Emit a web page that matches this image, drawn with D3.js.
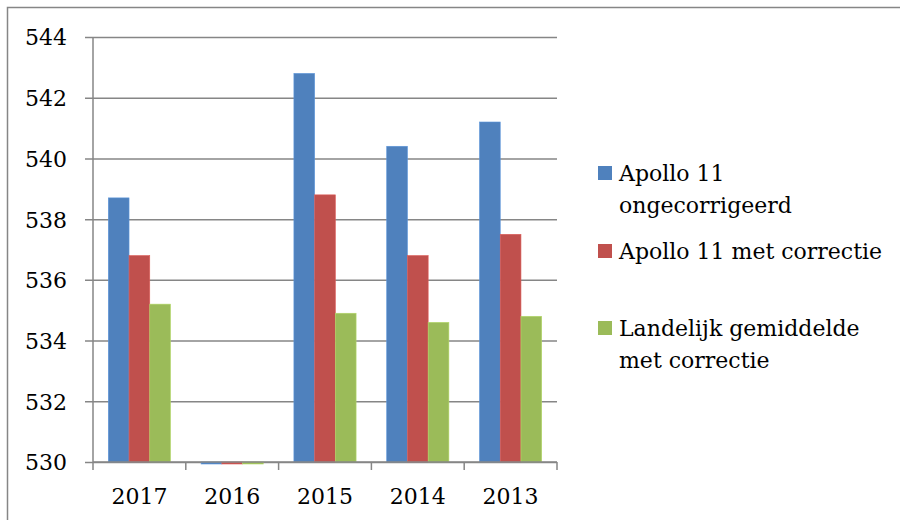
<!DOCTYPE html>
<html>
<head>
<meta charset="utf-8">
<script src="https://cdn.jsdelivr.net/npm/d3@7"></script>
<style>
  body { margin: 0; background: #fff; }
  svg { display: block; }
  text { font-family: "DejaVu Serif", serif; font-size: 22px; fill: #000; }
</style>
</head>
<body>
<div id="chart"></div>
<script>

//Data
var years = ["2017", "2016", "2015", "2014", "2013"];
var seriesNames = [
    ["Apollo 11", "ongecorrigeerd"],
    ["Apollo 11 met correctie"],
    ["Landelijk gemiddelde", "met correctie"]
];
var apolloRaw = [538.7, 530, 542.8, 540.4, 541.2];
var apolloCorr = [536.8, 530, 538.8, 536.8, 537.5];
var landelijk = [535.2, 530, 534.9, 534.6, 534.8];
var yTicks = [530, 532, 534, 536, 538, 540, 542, 544];
var colors = ["#4F81BD", "#C0504D", "#9BBB59"];


//**************************************************************************
//** initChart
//**************************************************************************
var width = 900, height = 520;
var svg = d3.select("#chart").append("svg")
    .attr("width", width)
    .attr("height", height);

//Outer frame
svg.append("rect")
    .attr("x", 7.5).attr("y", 7.5)
    .attr("width", width).attr("height", height)
    .attr("fill", "none")
    .attr("stroke", "#868686")
    .attr("stroke-width", 1.5);

var plot = { left: 93, right: 557, top: 37, bottom: 462 };

var x = d3.scaleBand()
    .domain(years)
    .range([plot.left, plot.right])
    .paddingInner(0)
    .paddingOuter(0);

var groupWidth = x.bandwidth() * 0.67;
var xSub = d3.scaleBand()
    .domain(d3.range(colors.length))
    .range([0, groupWidth]);

var y = d3.scaleLinear()
    .domain([530, 544])
    .range([plot.bottom, plot.top]);


//**************************************************************************
//** drawGridlines
//**************************************************************************
svg.append("g")
    .attr("transform", "translate(" + plot.left + ",0)")
    .call(d3.axisLeft(y)
        .tickValues(yTicks)
        .tickSize(8)
        .tickPadding(18)
        .tickFormat(d3.format("d"))
    )
    .call(function(g){
        g.select(".domain").remove();
        g.selectAll(".tick line")
            .attr("stroke", "#868686")
            .attr("stroke-width", 1.5)
            .attr("x2", plot.right - plot.left)
            .attr("x1", -8);
        g.selectAll(".tick text")
            .attr("x", -26)
            .attr("dy", "0.36em")
            .style("font-family", "'DejaVu Serif', serif")
            .style("font-size", "22px")
            .attr("fill", "#000");
    });


//**************************************************************************
//** drawBars
//**************************************************************************
var series = [apolloRaw, apolloCorr, landelijk];
series.forEach(function(values, s){
    svg.append("g")
        .selectAll("rect")
        .data(values)
        .enter()
        .append("rect")
        .attr("x", function(d, i){
            return x(years[i]) + (x.bandwidth() - groupWidth) / 2 + xSub(s);
        })
        .attr("width", xSub.bandwidth())
        .attr("y", function(d){
            var h = plot.bottom - y(d);
            return h < 2 ? plot.bottom : y(d);
        })
        .attr("height", function(d){
            var h = plot.bottom - y(d);
            return h < 2 ? 2 : h;
        })
        .attr("fill", colors[s])
        .attr("stroke", d3.color(colors[s]).brighter(0.4))
        .attr("stroke-width", 0.6);
});


//**************************************************************************
//** drawAxes
//**************************************************************************
//Y axis line
svg.append("line")
    .attr("x1", plot.left).attr("x2", plot.left)
    .attr("y1", plot.top).attr("y2", plot.bottom)
    .attr("stroke", "#868686")
    .attr("stroke-width", 1.5);

//X axis
var tickPositions = years.map(function(d){ return x(d); }).concat([plot.right]);
var xAxis = svg.append("g");
xAxis.append("line")
    .attr("x1", plot.left).attr("x2", plot.right)
    .attr("y1", plot.bottom).attr("y2", plot.bottom)
    .attr("stroke", "#868686")
    .attr("stroke-width", 1.5);
xAxis.selectAll(".xtick")
    .data(tickPositions)
    .enter()
    .append("line")
    .attr("x1", function(d){ return d; })
    .attr("x2", function(d){ return d; })
    .attr("y1", plot.bottom)
    .attr("y2", plot.bottom + 8)
    .attr("stroke", "#868686")
    .attr("stroke-width", 1.5);
xAxis.selectAll(".xlabel")
    .data(years)
    .enter()
    .append("text")
    .attr("x", function(d){ return x(d) + x.bandwidth() / 2; })
    .attr("y", 504)
    .style("text-anchor", "middle")
    .text(function(d){ return d; });


//**************************************************************************
//** drawLegend
//**************************************************************************
var legendY = [181, 259, 336];
var legend = svg.append("g");
seriesNames.forEach(function(lines, i){
    legend.append("rect")
        .attr("x", 598)
        .attr("y", legendY[i] - 15)
        .attr("width", 14)
        .attr("height", 14)
        .attr("fill", colors[i]);
    var t = legend.append("text")
        .attr("x", 619)
        .attr("y", legendY[i]);
    lines.forEach(function(line, j){
        t.append("tspan")
            .attr("x", 619)
            .attr("dy", j === 0 ? 0 : 32)
            .text(line);
    });
});

</script>
</body>
</html>
